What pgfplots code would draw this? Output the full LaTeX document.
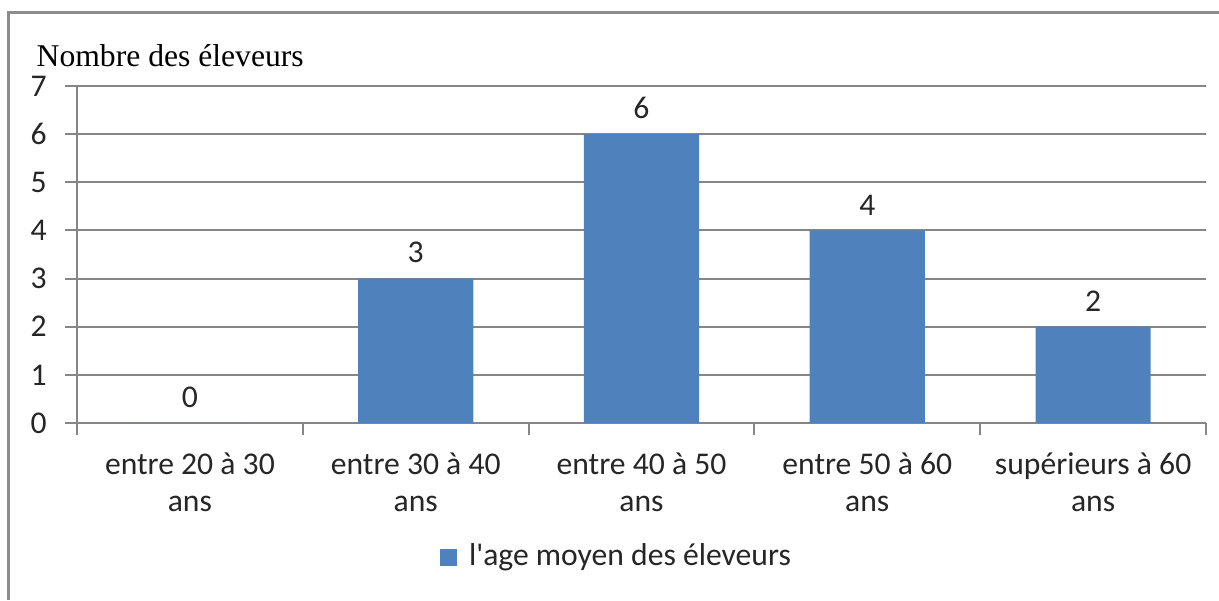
\documentclass[border=0pt]{standalone}
\usepackage{fontspec}
\setmainfont{Carlito}[Ligatures=TeXOff]
\newfontfamily\titlefont{Liberation Serif}
\usepackage{pgfplots}
\pgfplotsset{compat=1.18}
\definecolor{barblue}{HTML}{4F81BD}
\definecolor{axgray}{HTML}{868686}
\definecolor{framegray}{HTML}{8C8C8C}
\begin{document}
\begin{tikzpicture}
\useasboundingbox (0,0) rectangle (12.19,-6.00);
\draw[framegray, line width=0.03cm] (0.09,-6.0) -- (0.09,-0.12) -- (12.19,-0.12);
\node[anchor=west, font=\titlefont\fontsize{9pt}{10pt}\selectfont, inner sep=0pt] at (0.36,-0.56) {Nombre des éleveurs};
\begin{axis}[
  at={(0.77cm,-4.23cm)}, anchor=south west,
  scale only axis, width=11.29cm, height=3.37cm,
  xmin=-0.5, xmax=4.5, ymin=0, ymax=7,
  axis x line*=bottom, axis y line*=left,
  axis line style={axgray, line width=0.6pt, -},
  ytick={0,...,7},
  ymajorgrids, grid style={axgray, line width=0.6pt},
  xtick={-0.5,0.5,...,4.5}, xticklabels={},
  extra x ticks={0,1,2,3,4},
  extra x tick labels={entre 20 à 30\\ans, entre 30 à 40\\ans, entre 40 à 50\\ans, entre 50 à 60\\ans, supérieurs à 60\\ans},
  extra x tick style={major tick length=0pt, grid=none},
  tick align=outside, major tick length=0.12cm,
  tick style={axgray, line width=0.6pt},
  tick label style={font=\fontsize{9pt}{10.6pt}\selectfont, text=black!85},
  x tick label style={align=center, yshift=-0.17cm},
  yticklabel style={xshift=-0.06cm},
  /pgf/number format/assume math mode=true,
  ybar, bar width=0.51,
  nodes near coords,
  every node near coord/.append style={font=\fontsize{9pt}{10.6pt}\selectfont, text=black!85, yshift=0.03cm},
  legend style={draw=none, at={(0.48,-0.398)}, anchor=center, font=\fontsize{9pt}{10.6pt}\selectfont, text=black!85},
  legend image code/.code={\fill[barblue] (0cm,-0.085cm) rectangle (0.17cm,0.085cm);},
]
\addplot[fill=barblue, draw=none] coordinates {(0,0) (1,3) (2,6) (3,4) (4,2)};
\addlegendentry{\hspace{0.05cm}l'age moyen des éleveurs}
\end{axis}
\end{tikzpicture}
\end{document}
